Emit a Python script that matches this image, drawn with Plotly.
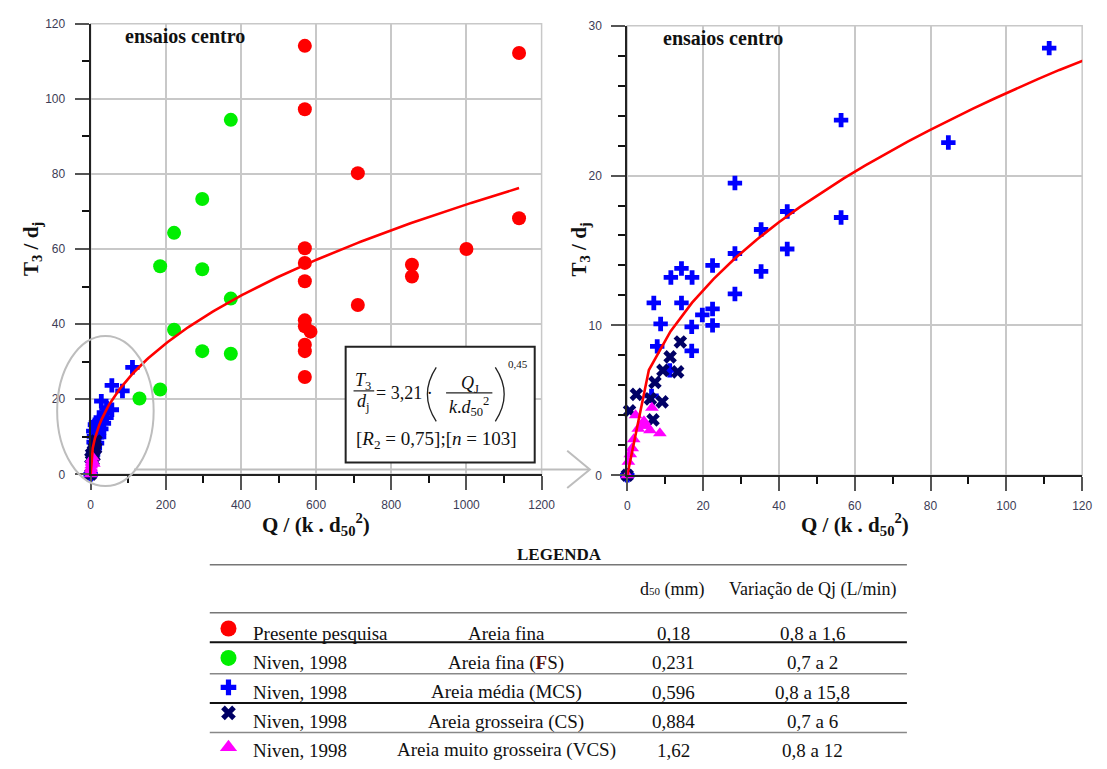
import numpy as np
import plotly.graph_objects as go

W, H = 1107, 769

# ---------------------------------------------------------------- data
# Presente pesquisa - areia fina
red_q = [570, 570, 570, 570, 570, 570, 570, 585, 570, 570, 570,
         711, 711, 855, 855, 1000, 1140, 1140]
red_t = [114.1, 97.2, 60.2, 56.3, 51.4, 41.0, 39.4, 38.0, 34.5, 32.8, 25.9,
         80.2, 45.1, 55.8, 52.7, 60.0, 112.2, 68.2]

# Niven (1998) - areia fina (FS)
fs_q = [130, 185, 185, 222, 222, 297, 297, 297, 373, 373, 373]
fs_t = [20.2, 22.6, 55.4, 38.5, 64.3, 32.8, 54.6, 73.3, 32.1, 46.8, 94.4]

# Niven (1998) - areia media (MCS)
mcs_q = [0, 6.4, 7.0, 7.9, 8.8, 11.2, 11.5, 14.3, 14.3, 17.0, 17.0, 17.1,
         19.8, 22.5, 22.5, 22.5, 28.4, 28.4, 28.4, 35.3, 35.3, 42.2, 42.2,
         56.4, 56.4, 84.7, 111.3]
mcs_t = [0, 5.3, 11.5, 8.6, 10.1, 7.0, 13.2, 11.5, 13.8, 9.9, 8.3, 13.2,
         10.7, 11.1, 10.0, 14.0, 12.1, 14.8, 19.5, 13.6, 16.4, 15.1, 17.6,
         17.2, 23.7, 22.2, 28.5]

# Niven (1998) - areia grosseira (CS)
cs_q = [0, 0.6, 2.4, 6.1, 6.8, 7.3, 9.4, 9.2, 11.3, 13.3, 14.0]
cs_t = [0, 4.3, 5.4, 5.1, 3.7, 6.2, 7.0, 4.9, 7.9, 6.9, 8.9]

# Niven (1998) - areia muito grosseira (VCS)
vcs_q = [0, 0.3, 0.8, 1.3, 1.7, 2.2, 2.9, 3.6, 4.4, 5.1, 6.0, 6.5, 8.6]
vcs_t = [0, 0.9, 1.4, 1.8, 2.4, 4.0, 3.1, 3.3, 3.6, 3.3, 3.0, 4.5, 2.8]

# fitted law  T3/dj = 3,21 (Qj / k d50^2)^0,45
COEF, EXPOENTE = 3.21, 0.45
Q_MAX_FIT = 1140

# legend table
leg_autor = ["Presente pesquisa", "Niven, 1998", "Niven, 1998", "Niven, 1998", "Niven, 1998"]
leg_material = ["Areia fina",
                "Areia fina (<b><span style='color:#5a1212'>F</span></b>S)",
                "Areia média (MCS)", "Areia grosseira (CS)",
                "Areia muito grosseira (VCS)"]
leg_d50 = ["0,18", "0,231", "0,596", "0,884", "1,62"]
leg_qj = ["0,8 a 1,6", "0,7 a 2", "0,8 a 15,8", "0,7 a 6", "0,8 a 12"]

# ---------------------------------------------------------------- styles
series = [
    dict(q=red_q, t=red_t, symbol="circle", color="#ff0000", size=14, key=16),
    dict(q=fs_q, t=fs_t, symbol="circle", color="#00ee00", size=14, key=16),
    dict(q=mcs_q, t=mcs_t, symbol="cross", color="#0000ff", size=12, key=13),
    dict(q=cs_q, t=cs_t, symbol="x", color="#000066", size=12, key=13),
    dict(q=vcs_q, t=vcs_t, symbol="triangle-up", color="#ff00ff", size=12, key=15),
]

SERIF = "Liberation Serif, Times New Roman, serif"
SANS = "Liberation Sans, Arial, sans-serif"


def px(x):
    return x / W


def py(y):
    return 1 - y / H


fig = go.Figure()

# scatter markers, full view (left) and zoomed view (right)
for s in series:
    mk = dict(symbol=s["symbol"], color=s["color"], size=s["size"], line=dict(width=0))
    fig.add_trace(go.Scatter(x=s["q"], y=s["t"], mode="markers", marker=mk,
                             cliponaxis=False, xaxis="x", yaxis="y", showlegend=False,
                             hoverinfo="skip"))
    pts = [(a, b) for a, b in zip(s["q"], s["t"]) if a <= 120 and b <= 30]
    if pts:
        qz, tz = zip(*pts)
        fig.add_trace(go.Scatter(x=list(qz), y=list(tz), mode="markers", marker=mk,
                                 cliponaxis=False, xaxis="x2", yaxis="y2",
                                 showlegend=False, hoverinfo="skip"))

q_fit = np.linspace(0, Q_MAX_FIT, 201)
t_fit = COEF * q_fit ** EXPOENTE
for xa, ya in (("x", "y"), ("x2", "y2")):
    fig.add_trace(go.Scatter(x=q_fit, y=t_fit, mode="lines",
                             line=dict(color="#ff0000", width=2.6),
                             xaxis=xa, yaxis=ya, showlegend=False, hoverinfo="skip"))

# legend-table symbols (hidden pixel-space axes)
row_text_y = [638, 668, 698, 728, 757]
row_mark_y = [633, 663, 693, 719, 754]
for s, yy in zip(series, row_mark_y):
    fig.add_trace(go.Scatter(x=[229], y=[yy], mode="markers",
                             marker=dict(symbol=s["symbol"], color=s["color"],
                                         size=s["key"], line=dict(width=0)),
                             xaxis="x3", yaxis="y3", showlegend=False, hoverinfo="skip",
                             cliponaxis=False))


def data_axis(domain, rng, dtick, minor_dtick, anchor, standoff):
    return dict(domain=domain, range=rng, tickmode="linear", tick0=0, dtick=dtick,
                showgrid=True, gridcolor="#c8c8c8", gridwidth=1.5,
                zeroline=False, showline=True, linecolor="#222", linewidth=2,
                ticks="outside", ticklen=14, tickwidth=1.5, tickcolor="#555",
                minor=dict(tick0=0, dtick=minor_dtick, ticks="outside", ticklen=7,
                           tickwidth=1.5, tickcolor="#111", showgrid=False),
                tickfont=dict(family=SANS, size=12, color="#3c3c55"),
                ticklabelstandoff=standoff, anchor=anchor, fixedrange=True)


L_X = (89, 547)
L_Y = (476, 17)
R_X = (634, 1096)
R_Y = (477, 19)

fig.update_layout(
    width=W, height=H, autosize=False,
    margin=dict(l=0, r=0, t=0, b=0),
    paper_bgcolor="white", plot_bgcolor="rgba(0,0,0,0)",
    xaxis=data_axis([px(L_X[0]), px(L_X[1])], [0, 1200], 200, 100, "y", 4),
    yaxis=data_axis([py(L_Y[0]), py(L_Y[1])], [0, 120], 20, 10, "x", 7),
    xaxis2=data_axis([px(R_X[0]), px(R_X[1])], [0, 120], 20, 10, "y2", 4),
    yaxis2=data_axis([py(R_Y[0]), py(R_Y[1])], [0, 30], 10, 2, "x2", 7),
    xaxis3=dict(domain=[0, 1], range=[0, W], visible=False, anchor="y3", fixedrange=True),
    yaxis3=dict(domain=[0, 1], range=[H, 0], visible=False, anchor="x3", fixedrange=True),
)

shapes = []
# gray plot frames (top / right edges)
for (x0, x1), (y0, y1) in ((L_X, L_Y), (R_X, R_Y)):
    shapes.append(dict(type="rect", xref="paper", yref="paper", layer="below",
                       x0=px(x0), x1=px(x1), y0=py(y0), y1=py(y1),
                       line=dict(color="#c8c8c8", width=1.5)))

# ellipse around the low-flow cluster and the arrow to the zoomed view
shapes.append(dict(type="circle", xref="paper", yref="paper",
                   x0=px(55), x1=px(153), y0=py(488), y1=py(335),
                   line=dict(color="#bdbdbd", width=2)))
shapes.append(dict(type="line", xref="paper", yref="paper",
                   x0=px(133), x1=px(595), y0=py(471), y1=py(471),
                   line=dict(color="#bdbdbd", width=2)))
shapes.append(dict(type="path", xref="paper", yref="paper",
                   path=f"M {px(573)} {py(452)} L {px(596)} {py(471)} L {px(573)} {py(490)}",
                   line=dict(color="#bdbdbd", width=2)))

# equation box
shapes.append(dict(type="rect", xref="paper", yref="paper",
                   x0=px(348), x1=px(540), y0=py(464), y1=py(346),
                   fillcolor="white", line=dict(color="#222", width=2)))
# fraction bars
shapes.append(dict(type="line", xref="paper", yref="paper",
                   x0=px(356), x1=px(377), y0=py(391), y1=py(391),
                   line=dict(color="#222", width=1.2)))
shapes.append(dict(type="line", xref="paper", yref="paper",
                   x0=px(450), x1=px(497), y0=py(393), y1=py(393),
                   line=dict(color="#222", width=1.2)))
# large parentheses
shapes.append(dict(type="path", xref="paper", yref="paper",
                   path=f"M {px(440)} {py(367)} Q {px(422)} {py(394.5)} {px(440)} {py(422)}",
                   line=dict(color="#222", width=1.3)))
shapes.append(dict(type="path", xref="paper", yref="paper",
                   path=f"M {px(500)} {py(367)} Q {px(518)} {py(394.5)} {px(500)} {py(422)}",
                   line=dict(color="#222", width=1.3)))

# legend table rules
TAB_X0, TAB_X1 = 210, 918
for yy, col, wd in ((568, "#777", 1.5), (617, "#777", 1.5), (647, "#111", 2),
                    (679, "#888", 1.5), (709, "#111", 2), (739, "#888", 1.5)):
    shapes.append(dict(type="line", xref="paper", yref="paper",
                       x0=px(TAB_X0), x1=px(TAB_X1), y0=py(yy), y1=py(yy),
                       line=dict(color=col, width=wd)))

fig.update_layout(shapes=shapes)

ann = []


def text(x, y, s, size, bold=False, anchor="center", angle=0, color="#111"):
    ann.append(dict(x=px(x), y=py(y), xref="paper", yref="paper", showarrow=False,
                    text=s, xanchor=anchor, yanchor="middle", textangle=angle,
                    font=dict(family=SERIF, size=size, color=color,
                              weight="bold" if bold else "normal")))


# axis titles
xt = "Q / (k . d<sub>50</sub><sup>2</sup>)"
yt = "T<sub>3</sub> / d<sub>j</sub>"
text((L_X[0] + L_X[1]) / 2, 527, xt, 21, bold=True)
text((R_X[0] + R_X[1]) / 2, 527, xt, 21, bold=True)
text(29, 247, yt, 21, bold=True, angle=-90)
text(585, 247, yt, 21, bold=True, angle=-90)

# panel labels
text(185, 30, "ensaios centro", 20, bold=True)
text(731, 32, "ensaios centro", 20, bold=True)

# equation
text(366, 381, "<i>T</i><sub>3</sub>", 18)
text(366, 403, "<i>d</i><sub>j</sub>", 18)
text(408, 393, "= 3,21 ·", 18)
text(474, 384, "<i>Q</i><sub>J</sub>", 18)
text(473, 407, "<i>k</i>.<i>d</i><sub>50</sub><sup>2</sup>", 18)
text(523, 364, "0,45", 11)
text(440, 441, "[<i>R</i><sub>2</sub> = 0,75];[<i>n</i> = 103]", 19)

# legend table text
text(565, 558, "LEGENDA", 17, bold=True)
text(680, 593, "d<span style='font-size:11px'>50</span> (mm)", 18)
text(822, 593, "Variação de Qj (L/min)", 18)
for i, yy in enumerate(row_text_y):
    text(252, yy, leg_autor[i], 19, anchor="left")
    text(511, yy, leg_material[i], 19)
    text(681, yy, leg_d50[i], 19)
    text(822, yy, leg_qj[i], 19)

fig.update_layout(annotations=ann)

fig.write_html("out.html")
